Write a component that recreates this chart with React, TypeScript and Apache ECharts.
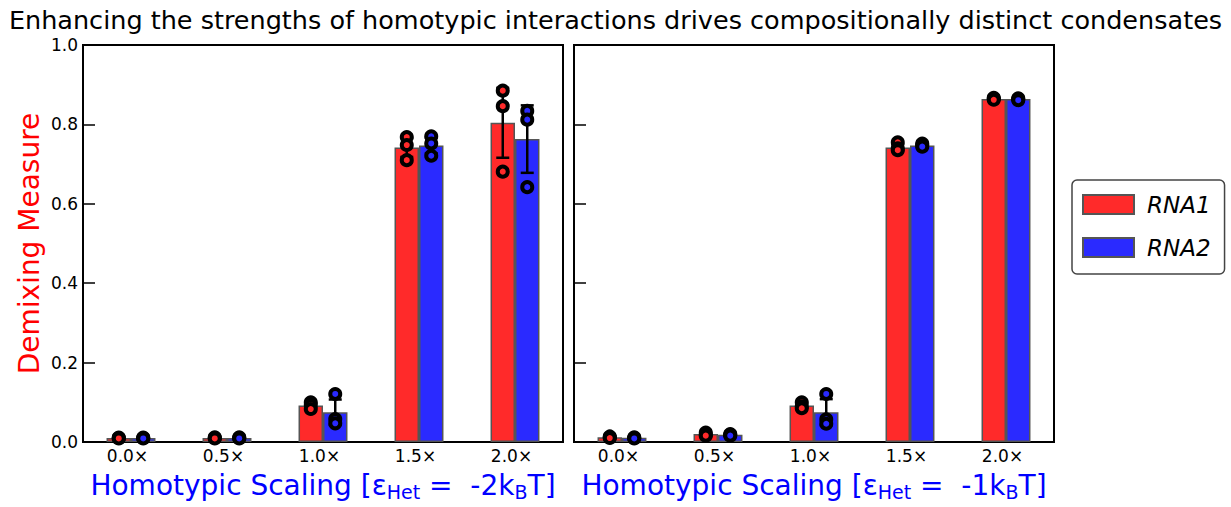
import React, { useEffect, useRef } from "react";
import * as echarts from "echarts";

const categories = ["0.0×", "0.5×", "1.0×", "1.5×", "2.0×"];

// Left panel (εHet = -2kBT)
const leftRNA1Mean = [0.010, 0.010, 0.092, 0.742, 0.804];
const leftRNA2Mean = [0.010, 0.010, 0.075, 0.747, 0.763];
const leftRNA1Err = [0.001, 0.001, 0.007, 0.024, 0.088];
const leftRNA2Err = [0.001, 0.001, 0.032, 0.020, 0.085];
const leftRNA1Pts = [
  [0.011, 0.010, 0.009],
  [0.012, 0.010, 0.009],
  [0.100, 0.093, 0.083],
  [0.768, 0.748, 0.710],
  [0.885, 0.846, 0.681],
];
const leftRNA2Pts = [
  [0.011, 0.010, 0.009],
  [0.012, 0.010, 0.009],
  [0.121, 0.058, 0.047],
  [0.770, 0.752, 0.721],
  [0.834, 0.812, 0.642],
];

// Right panel (εHet = -1kBT)
const rightRNA1Mean = [0.012, 0.020, 0.092, 0.742, 0.864];
const rightRNA2Mean = [0.011, 0.018, 0.075, 0.747, 0.864];
const rightRNA1Err = [0.002, 0.004, 0.007, 0.008, 0.002];
const rightRNA2Err = [0.001, 0.002, 0.033, 0.004, 0.002];
const rightRNA1Pts = [
  [0.014, 0.012, 0.010],
  [0.024, 0.018, 0.016],
  [0.100, 0.090, 0.085],
  [0.755, 0.740, 0.735],
  [0.867, 0.865, 0.862],
];
const rightRNA2Pts = [
  [0.012, 0.010, 0.009],
  [0.020, 0.018, 0.016],
  [0.121, 0.057, 0.046],
  [0.752, 0.748, 0.744],
  [0.866, 0.864, 0.861],
];

const yTicks = [0, 0.2, 0.4, 0.6, 0.8, 1.0];

const RED = "#ff2a2a";
const BLUE = "#2a2aff";
const FONT = "DejaVu Sans, Liberation Sans, Arial, sans-serif";
const CAT_GAP = 0.49;

function App() {
  const ref = useRef<HTMLDivElement>(null);
  useEffect(() => {
    if (!ref.current) return;
    const chart = echarts.init(ref.current, null, { renderer: "svg" });

    const barOffset = (api: any, side: number) => {
      const band = api.size([1, 0])[0];
      const bw = (band * (1 - CAT_GAP)) / 2;
      return (side * bw) / 2;
    };

    const errSeries = (name: string, gi: number, means: number[], errs: number[], side: number) => ({
      type: "custom",
      name,
      xAxisIndex: gi,
      yAxisIndex: gi,
      z: 3,
      data: means.map((m, i) => [i, m, errs[i]]),
      encode: { x: 0, y: 1 },
      renderItem: (params: any, api: any) => {
        const i = api.value(0);
        const m = api.value(1);
        const e = api.value(2);
        const off = barOffset(api, side);
        const top = api.coord([i, m + e]);
        const bot = api.coord([i, m - e]);
        const x = top[0] + off;
        const cap = 6.5;
        const st = { stroke: "#000", lineWidth: 2.5, fill: "none" };
        return {
          type: "group",
          children: [
            { type: "line", shape: { x1: x, y1: top[1], x2: x, y2: bot[1] }, style: st },
            { type: "line", shape: { x1: x - cap, y1: top[1], x2: x + cap, y2: top[1] }, style: st },
            { type: "line", shape: { x1: x - cap, y1: bot[1], x2: x + cap, y2: bot[1] }, style: st },
          ],
        };
      },
    });

    const ptSeries = (name: string, gi: number, pts: number[][], side: number, color: string) => {
      const data: number[][] = [];
      pts.forEach((arr, i) => arr.forEach((v) => data.push([i, v])));
      return {
        type: "custom",
        name,
        xAxisIndex: gi,
        yAxisIndex: gi,
        z: 4,
        data,
        encode: { x: 0, y: 1 },
        renderItem: (params: any, api: any) => {
          const i = api.value(0);
          const v = api.value(1);
          const off = barOffset(api, side);
          const p = api.coord([i, v]);
          return {
            type: "circle",
            shape: { cx: p[0] + off, cy: p[1], r: 5 },
            style: { fill: color, stroke: "#000", lineWidth: 4 },
          };
        },
      };
    };

    const barSeries = (name: string, gi: number, data: number[], color: string) => ({
      type: "bar",
      name,
      xAxisIndex: gi,
      yAxisIndex: gi,
      data,
      barGap: "0%",
      barCategoryGap: CAT_GAP * 100 + "%",
      itemStyle: { color, borderColor: "#555", borderWidth: 1.5 },
      z: 2,
    });

    const xName = (k: string) =>
      `{a|Homotypic Scaling [ε}{s|Het}{a| =  -${k}k}{s|B}{a|T]}`;
    const nameRich = {
      a: { fontSize: 28, color: "#0000ff", fontFamily: FONT, lineHeight: 32 },
      s: { fontSize: 19, color: "#0000ff", fontFamily: FONT, lineHeight: 32, padding: [14, 0, 0, 0] },
    };

    const xAxis = (gi: number, k: string) => ({
      type: "category",
      gridIndex: gi,
      data: categories,
      axisTick: { show: false },
      axisLine: { show: true, lineStyle: { color: "#000", width: 2 } },
      axisLabel: {
        color: "#000",
        fontSize: 17,
        fontFamily: FONT,
        margin: 5,
        padding: [0, 7, 0, 0],
      },
      name: xName(k),
      nameLocation: "middle",
      nameGap: 26,
      nameTextStyle: { rich: nameRich },
    });

    const yAxis = (gi: number, labels: boolean) => ({
      type: "value",
      gridIndex: gi,
      min: 0,
      max: 1,
      interval: 0.2,
      splitLine: { show: false },
      axisLine: { show: true, lineStyle: { color: "#000", width: 2 } },
      axisTick: { show: true, inside: true, length: 12, lineStyle: { color: "#000", width: 1.5 } },
      axisLabel: {
        show: labels,
        color: "#000",
        fontSize: 17,
        fontFamily: FONT,
        margin: 5,
        formatter: (v: number) => (yTicks.includes(v) ? v.toFixed(1) : ""),
      },
      name: labels ? "Demixing Measure" : "",
      nameLocation: "middle",
      nameRotate: 90,
      nameGap: 40,
      nameTextStyle: { color: "#ff0000", fontSize: 28, fontFamily: FONT },
    });

    chart.setOption({
      animation: false,
      backgroundColor: "#fff",
      title: {
        text: "Enhancing the strengths of homotypic interactions drives compositionally distinct condensates",
        left: "center",
        top: 2,
        textStyle: { fontSize: 25.5, fontWeight: "normal", color: "#000", fontFamily: FONT },
      },
      legend: {
        data: ["RNA1", "RNA2"],
        orient: "vertical",
        left: 1072,
        top: 180,
        itemWidth: 51,
        itemHeight: 19,
        itemGap: 20,
        padding: [13, 14, 15, 10],
        borderColor: "#444",
        borderWidth: 1.5,
        borderRadius: 5,
        icon: "rect",
        textStyle: {
          fontSize: 23,
          lineHeight: 19,
          fontStyle: "italic",
          color: "#000",
          fontFamily: FONT,
          padding: [0, 0, 0, 8],
        },
      },
      grid: [
        { left: 83, top: 45, width: 480, height: 397, show: true, borderColor: "#000", borderWidth: 2, backgroundColor: "transparent", outerBoundsMode: "none", containLabel: false },
        { left: 574, top: 45, width: 480, height: 397, show: true, borderColor: "#000", borderWidth: 2, backgroundColor: "transparent", outerBoundsMode: "none", containLabel: false },
      ],
      xAxis: [xAxis(0, "2"), xAxis(1, "1")],
      yAxis: [yAxis(0, true), yAxis(1, false)],
      series: [
        barSeries("RNA1", 0, leftRNA1Mean, RED),
        barSeries("RNA2", 0, leftRNA2Mean, BLUE),
        barSeries("RNA1", 1, rightRNA1Mean, RED),
        barSeries("RNA2", 1, rightRNA2Mean, BLUE),
        errSeries("errL1", 0, leftRNA1Mean, leftRNA1Err, -1),
        errSeries("errL2", 0, leftRNA2Mean, leftRNA2Err, 1),
        errSeries("errR1", 1, rightRNA1Mean, rightRNA1Err, -1),
        errSeries("errR2", 1, rightRNA2Mean, rightRNA2Err, 1),
        ptSeries("ptL1", 0, leftRNA1Pts, -1, RED),
        ptSeries("ptL2", 0, leftRNA2Pts, 1, BLUE),
        ptSeries("ptR1", 1, rightRNA1Pts, -1, RED),
        ptSeries("ptR2", 1, rightRNA2Pts, 1, BLUE),
      ],
    });
    return () => chart.dispose();
  }, []);
  return (
    <div
      ref={ref}
      style={{ position: "fixed", left: 0, top: 0, width: 1231, height: 507, background: "#fff" }}
    />
  );
}

export default App;
